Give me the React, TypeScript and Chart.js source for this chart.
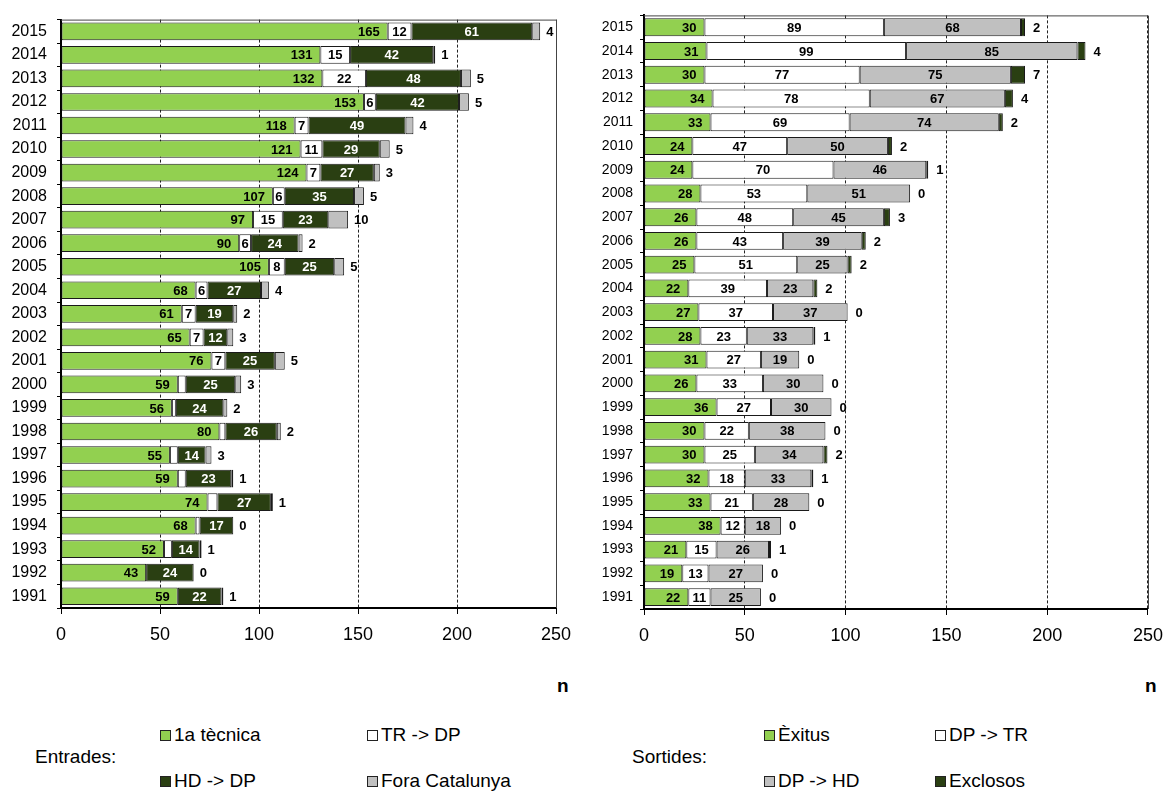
import React, { useEffect, useRef } from "react";
import { Chart, registerables } from "chart.js";

Chart.register(...registerables);

// ---------- DATA ----------
const years = [
  "1991", "1992", "1993", "1994", "1995", "1996", "1997", "1998", "1999", "2000",
  "2001", "2002", "2003", "2004", "2005", "2006", "2007", "2008", "2009", "2010",
  "2011", "2012", "2013", "2014", "2015",
];

// Entrades (left chart)
const primeraTecnica = [59, 43, 52, 68, 74, 59, 55, 80, 56, 59, 76, 65, 61, 68, 105, 90, 97, 107, 124, 121, 118, 153, 132, 131, 165];
const trDp = [0, 0, 4, 2, 5, 4, 4, 3, 2, 4, 7, 7, 7, 6, 8, 6, 15, 6, 7, 11, 7, 6, 22, 15, 12];
const hdDp = [22, 24, 14, 17, 27, 23, 14, 26, 24, 25, 25, 12, 19, 27, 25, 24, 23, 35, 27, 29, 49, 42, 48, 42, 61];
const foraCatalunya = [1, 0, 1, 0, 1, 1, 3, 2, 2, 3, 5, 3, 2, 4, 5, 2, 10, 5, 3, 5, 4, 5, 5, 1, 4];

// Sortides (right chart)
const exitus = [22, 19, 21, 38, 33, 32, 30, 30, 36, 26, 31, 28, 27, 22, 25, 26, 26, 28, 24, 24, 33, 34, 30, 31, 30];
const dpTr = [11, 13, 15, 12, 21, 18, 25, 22, 27, 33, 27, 23, 37, 39, 51, 43, 48, 53, 70, 47, 69, 78, 77, 99, 89];
const dpHd = [25, 27, 26, 18, 28, 33, 34, 38, 30, 30, 19, 33, 37, 23, 25, 39, 45, 51, 46, 50, 74, 67, 75, 85, 68];
const exclosos = [0, 0, 1, 0, 0, 1, 2, 0, 0, 0, 0, 1, 0, 2, 2, 2, 3, 0, 1, 2, 2, 4, 7, 4, 2];

const xTicks = [0, 50, 100, 150, 200, 250];

const entradesLabels = ["1a tècnica", "TR -> DP", "HD -> DP", "Fora Catalunya"];
const sortidesLabels = ["Èxitus", "DP -> TR", "DP -> HD", "Exclosos"];

// ---------- STYLE ----------
const GREEN = "#92D050";
const WHITE = "#FFFFFF";
const DARK = "#2A3F12";
const GRAY = "#C0C0C0";
const FONT = '"Liberation Sans", Arial, sans-serif';

const labelPlugin = {
  id: "segLabels",
  afterDatasetsDraw(chart: any) {
    const ctx = chart.ctx;
    chart.data.datasets.forEach((ds: any, di: number) => {
      const meta = chart.getDatasetMeta(di);
      const mode = ds.labelMode;
      if (!mode || mode === "none") return;
      meta.data.forEach((el: any, i: number) => {
        const v = ds.data[i];
        if (ds.minLabel != null && v < ds.minLabel) return;
        const { x, y, base } = el.getProps(["x", "y", "base"], true);
        ctx.save();
        ctx.font = `bold 13px ${FONT}`;
        ctx.fillStyle = ds.labelColor || "#000";
        ctx.textBaseline = "middle";
        if (mode === "end") {
          ctx.textAlign = "right";
          ctx.fillText(String(v), x - 8, y + 1);
        } else if (mode === "center") {
          ctx.textAlign = "center";
          ctx.fillText(String(v), (x + base) / 2, y + 1);
        } else if (mode === "outside") {
          ctx.textAlign = "left";
          ctx.fillText(String(v), x + (ds.outsideOffset || 6), y + 1);
        }
        ctx.restore();
      });
    });
  },
};

const framePlugin = {
  id: "frame",
  afterDraw(chart: any) {
    const { ctx, chartArea } = chart;
    ctx.save();
    ctx.strokeStyle = "#444";
    ctx.lineWidth = 1;
    ctx.beginPath();
    ctx.moveTo(chartArea.left, chartArea.top + 0.5);
    ctx.lineTo(Math.round(chartArea.right) + 0.5, chartArea.top + 0.5);
    ctx.lineTo(Math.round(chartArea.right) + 0.5, chartArea.bottom);
    ctx.stroke();
    ctx.restore();
  },
};

function makeConfig(datasets: any[], yWidth: number, padTop: number, padRight: number, xHeight: number, yFont: number, yPad: number) {
  return {
    type: "bar" as const,
    data: {
      labels: years,
      datasets: datasets.map((d) => ({
        ...d,
        borderColor: "#1a1a1a",
        borderWidth: 1,
        borderSkipped: false,
        barPercentage: 0.75,
        categoryPercentage: 1.0,
        stack: "s",
      })),
    },
    options: {
      indexAxis: "y" as const,
      responsive: false,
      animation: false as const,
      layout: { padding: { top: padTop, right: padRight, left: 0, bottom: 0 } },
      plugins: { legend: { display: false }, tooltip: { enabled: false } },
      scales: {
        x: {
          stacked: true,
          min: 0,
          max: 250,
          afterBuildTicks: (scale: any) => {
            scale.ticks = xTicks.map((v) => ({ value: v }));
          },
          afterFit: (scale: any) => {
            scale.height = xHeight;
          },
          grid: {
            color: "#222",
            lineWidth: 1,
            drawTicks: true,
            tickLength: 6,
            tickColor: "#000",
            tickBorderDash: [],
          },
          border: { display: true, color: "#000", width: 2, dash: [3, 2] },
          ticks: {
            color: "#000",
            font: { family: FONT, size: 18 },
            padding: 10,
            maxRotation: 0,
          },
        },
        y: {
          stacked: true,
          reverse: true,
          afterFit: (scale: any) => {
            scale.width = yWidth;
          },
          grid: {
            offset: true,
            drawOnChartArea: false,
            drawTicks: true,
            tickLength: 4,
            color: "#000",
          },
          border: { display: true, color: "#000", width: 2 },
          ticks: {
            color: "#000",
            font: { family: FONT, size: yFont },
            padding: yPad,
            autoSkip: false,
          },
        },
      },
    },
    plugins: [labelPlugin, framePlugin],
  };
}

function BarChart({ config, width, height, left }: { config: any; width: number; height: number; left: number }) {
  const ref = useRef<HTMLCanvasElement | null>(null);
  useEffect(() => {
    if (!ref.current) return;
    const chart = new Chart(ref.current, config);
    return () => chart.destroy();
  }, [config]);
  return (
    <canvas
      ref={ref}
      width={width}
      height={height}
      style={{ position: "absolute", left, top: 0, width, height }}
    />
  );
}

const leftConfig = makeConfig(
  [
    { label: entradesLabels[0], data: primeraTecnica, backgroundColor: GREEN, labelMode: "end", labelColor: "#000" },
    { label: entradesLabels[1], data: trDp, backgroundColor: WHITE, labelMode: "center", labelColor: "#000", minLabel: 6 },
    { label: entradesLabels[2], data: hdDp, backgroundColor: DARK, labelMode: "center", labelColor: "#fff" },
    { label: entradesLabels[3], data: foraCatalunya, backgroundColor: GRAY, labelMode: "outside", labelColor: "#000", outsideOffset: 6 },
  ],
  61, 11, 34, 52, 16, 10
);

const rightConfig = makeConfig(
  [
    { label: sortidesLabels[0], data: exitus, backgroundColor: GREEN, labelMode: "end", labelColor: "#000" },
    { label: sortidesLabels[1], data: dpTr, backgroundColor: WHITE, labelMode: "center", labelColor: "#000" },
    { label: sortidesLabels[2], data: dpHd, backgroundColor: GRAY, labelMode: "center", labelColor: "#000" },
    { label: sortidesLabels[3], data: exclosos, backgroundColor: DARK, labelMode: "outside", labelColor: "#000", outsideOffset: 8 },
  ],
  54, 14, 23, 51, 14, 7
);

function LegendItem({ x, y, color, text }: { x: number; y: number; color: string; text: string }) {
  return (
    <div style={{ position: "absolute", left: x, top: y - 11, height: 22, display: "flex", alignItems: "center", whiteSpace: "nowrap" }}>
      <div style={{ width: 9, height: 9, background: color, border: "1px solid #222", marginRight: 3 }} />
      <span style={{ fontFamily: FONT, fontSize: 19, color: "#000" }}>{text}</span>
    </div>
  );
}

function TextAt({ x, y, text, bold }: { x: number; y: number; text: string; bold?: boolean }) {
  return (
    <div
      style={{
        position: "absolute",
        left: x,
        top: y - 11,
        height: 22,
        lineHeight: "22px",
        fontFamily: FONT,
        fontSize: 19,
        fontWeight: bold ? "bold" : "normal",
        color: "#000",
        whiteSpace: "nowrap",
      }}
    >
      {text}
    </div>
  );
}

export default function App() {
  return (
    <div style={{ position: "absolute", left: 0, top: 0, width: 1173, height: 794, background: "#fff", overflow: "hidden" }}>
      <BarChart config={leftConfig} width={590} height={660} left={0} />
      <BarChart config={rightConfig} width={583} height={660} left={590} />

      <TextAt x={557} y={686} text="n" bold />
      <TextAt x={1145} y={686} text="n" bold />

      <TextAt x={35} y={757} text="Entrades:" />
      <LegendItem x={160} y={735} color={GREEN} text={entradesLabels[0]} />
      <LegendItem x={367} y={735} color={WHITE} text={entradesLabels[1]} />
      <LegendItem x={160} y={781} color={DARK} text={entradesLabels[2]} />
      <LegendItem x={367} y={781} color={GRAY} text={entradesLabels[3]} />

      <TextAt x={632} y={757} text="Sortides:" />
      <LegendItem x={764} y={735} color={GREEN} text={sortidesLabels[0]} />
      <LegendItem x={935} y={735} color={WHITE} text={sortidesLabels[1]} />
      <LegendItem x={764} y={781} color={GRAY} text={sortidesLabels[2]} />
      <LegendItem x={935} y={781} color={DARK} text={sortidesLabels[3]} />
    </div>
  );
}
